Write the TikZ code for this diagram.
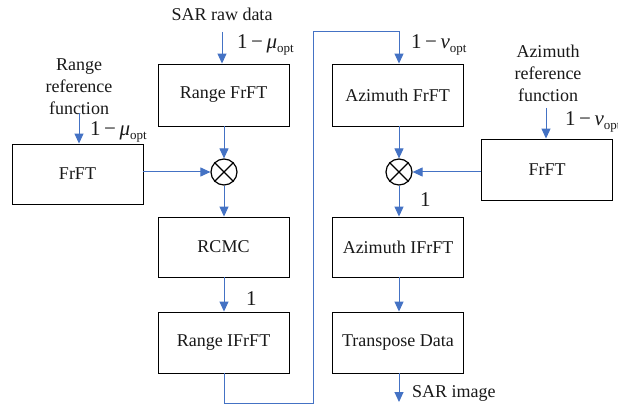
\documentclass[tikz,border=0pt]{standalone}
\usepackage{fontspec}
\setmainfont{Liberation Serif}
\usetikzlibrary{arrows.meta}
\definecolor{arrblue}{HTML}{4472C4}
\newcommand{\lblmu}{\fontsize{21}{21}\selectfont 1\,−\,{\itshape μ}\raisebox{-0.45ex}{\fontsize{13}{13}\selectfont opt}}
\newcommand{\lblnu}{\fontsize{21}{21}\selectfont 1\,−\,{\itshape ν}\raisebox{-0.45ex}{\fontsize{13}{13}\selectfont opt}}
\begin{document}
\begin{tikzpicture}[x=1pt,y=-1pt,
  box/.style={draw=black,line width=0.9pt,minimum width=131pt,inner sep=0pt,font=\fontsize{18}{18}\selectfont,text=black!90},
  mult/.style={draw=black,line width=1.2pt,circle,minimum size=26pt,inner sep=0pt},
  arr/.style={draw=arrblue,line width=1pt,-{Triangle[length=10pt,width=9pt]}},
  ln/.style={draw=arrblue,line width=1pt},
  txt/.style={font=\fontsize{18}{22}\selectfont,align=center,inner sep=0pt,text=black!90},
  lbl/.style={anchor=west,inner sep=0pt,text=black!90}]
\clip (0,0) rectangle (618,406);
\fill[white] (0,0) rectangle (618,406);
% left column
\node[box,minimum height=62pt] (rf) at (223.5,95) {Range FrFT};
\node[mult] (m1) at (224,172) {};
\draw[line width=1.2pt] (m1.45) -- (m1.225) (m1.135) -- (m1.-45);
\node[box,minimum height=60pt] (lf) at (77.5,174) {FrFT};
\node[box,minimum height=60pt] (rcmc) at (223.5,247) {RCMC};
\node[box,minimum height=61pt] (rif) at (223.5,342.5) {Range IFrFT};
\node[txt] (sar) at (222,14) {SAR raw data};
\node[txt] (rrf) at (79,87) {Range\\reference\\function};
\coordinate (sarS) at (222,32);
\coordinate (rrfS) at (79,113);
\node[lbl] (mu1) at (237,45) {\lblmu};
\node[lbl] (mu2) at (90,132) {\lblmu};
\node[lbl,font=\fontsize{21}{21}\selectfont] (one1) at (246,299) {1};
% right column
\node[box,minimum height=62pt] (af) at (397.5,95) {Azimuth FrFT};
\node[mult] (m2) at (399,172) {};
\draw[line width=1.2pt] (m2.45) -- (m2.225) (m2.135) -- (m2.-45);
\node[box,minimum height=61pt] (rfr) at (547,169.5) {FrFT};
\node[box,minimum height=60pt] (aif) at (398,247) {Azimuth IFrFT};
\node[box,minimum height=61pt] (td) at (398,342.5) {Transpose Data};
\node[txt] (arf) at (548,73) {Azimuth\\reference\\function};
\coordinate (arfS) at (546,108);
\node[lbl] (nu1) at (411,45) {\lblnu};
\node[lbl] (nu2) at (565,122) {\lblnu};
\node[lbl,font=\fontsize{21}{21}\selectfont] (one2) at (420,200) {1};
\coordinate (out) at (399,402);
\node[lbl,font=\fontsize{18}{18}\selectfont] (img) at (412,393) {SAR image};
% connectors
\draw[arr] (sarS) -- (rf.north -| sarS);
\draw[arr] (rrfS) -- (lf.north -| rrfS);
\draw[arr] (rf.south -| m1) -- (m1.north);
\draw[arr] (lf.east |- m1) -- (m1.west);
\draw[arr] (m1.south) -- (rcmc.north -| m1);
\draw[arr] (rcmc.south -| m1) -- (rif.north -| m1);
\draw[arr] (rif.south -| m1) -- ++(0,30) -| (313,32) -| (af.north -| m2);
\draw[arr] (af.south -| m2) -- (m2.north);
\draw[arr] (rfr.west |- m2) -- (m2.east);
\draw[arr] (arfS) -- (rfr.north -| arfS);
\draw[arr] (m2.south) -- (aif.north -| m2);
\draw[arr] (aif.south -| m2) -- (td.north -| m2);
\draw[arr] (td.south -| out) -- (out);
\end{tikzpicture}
\end{document}
